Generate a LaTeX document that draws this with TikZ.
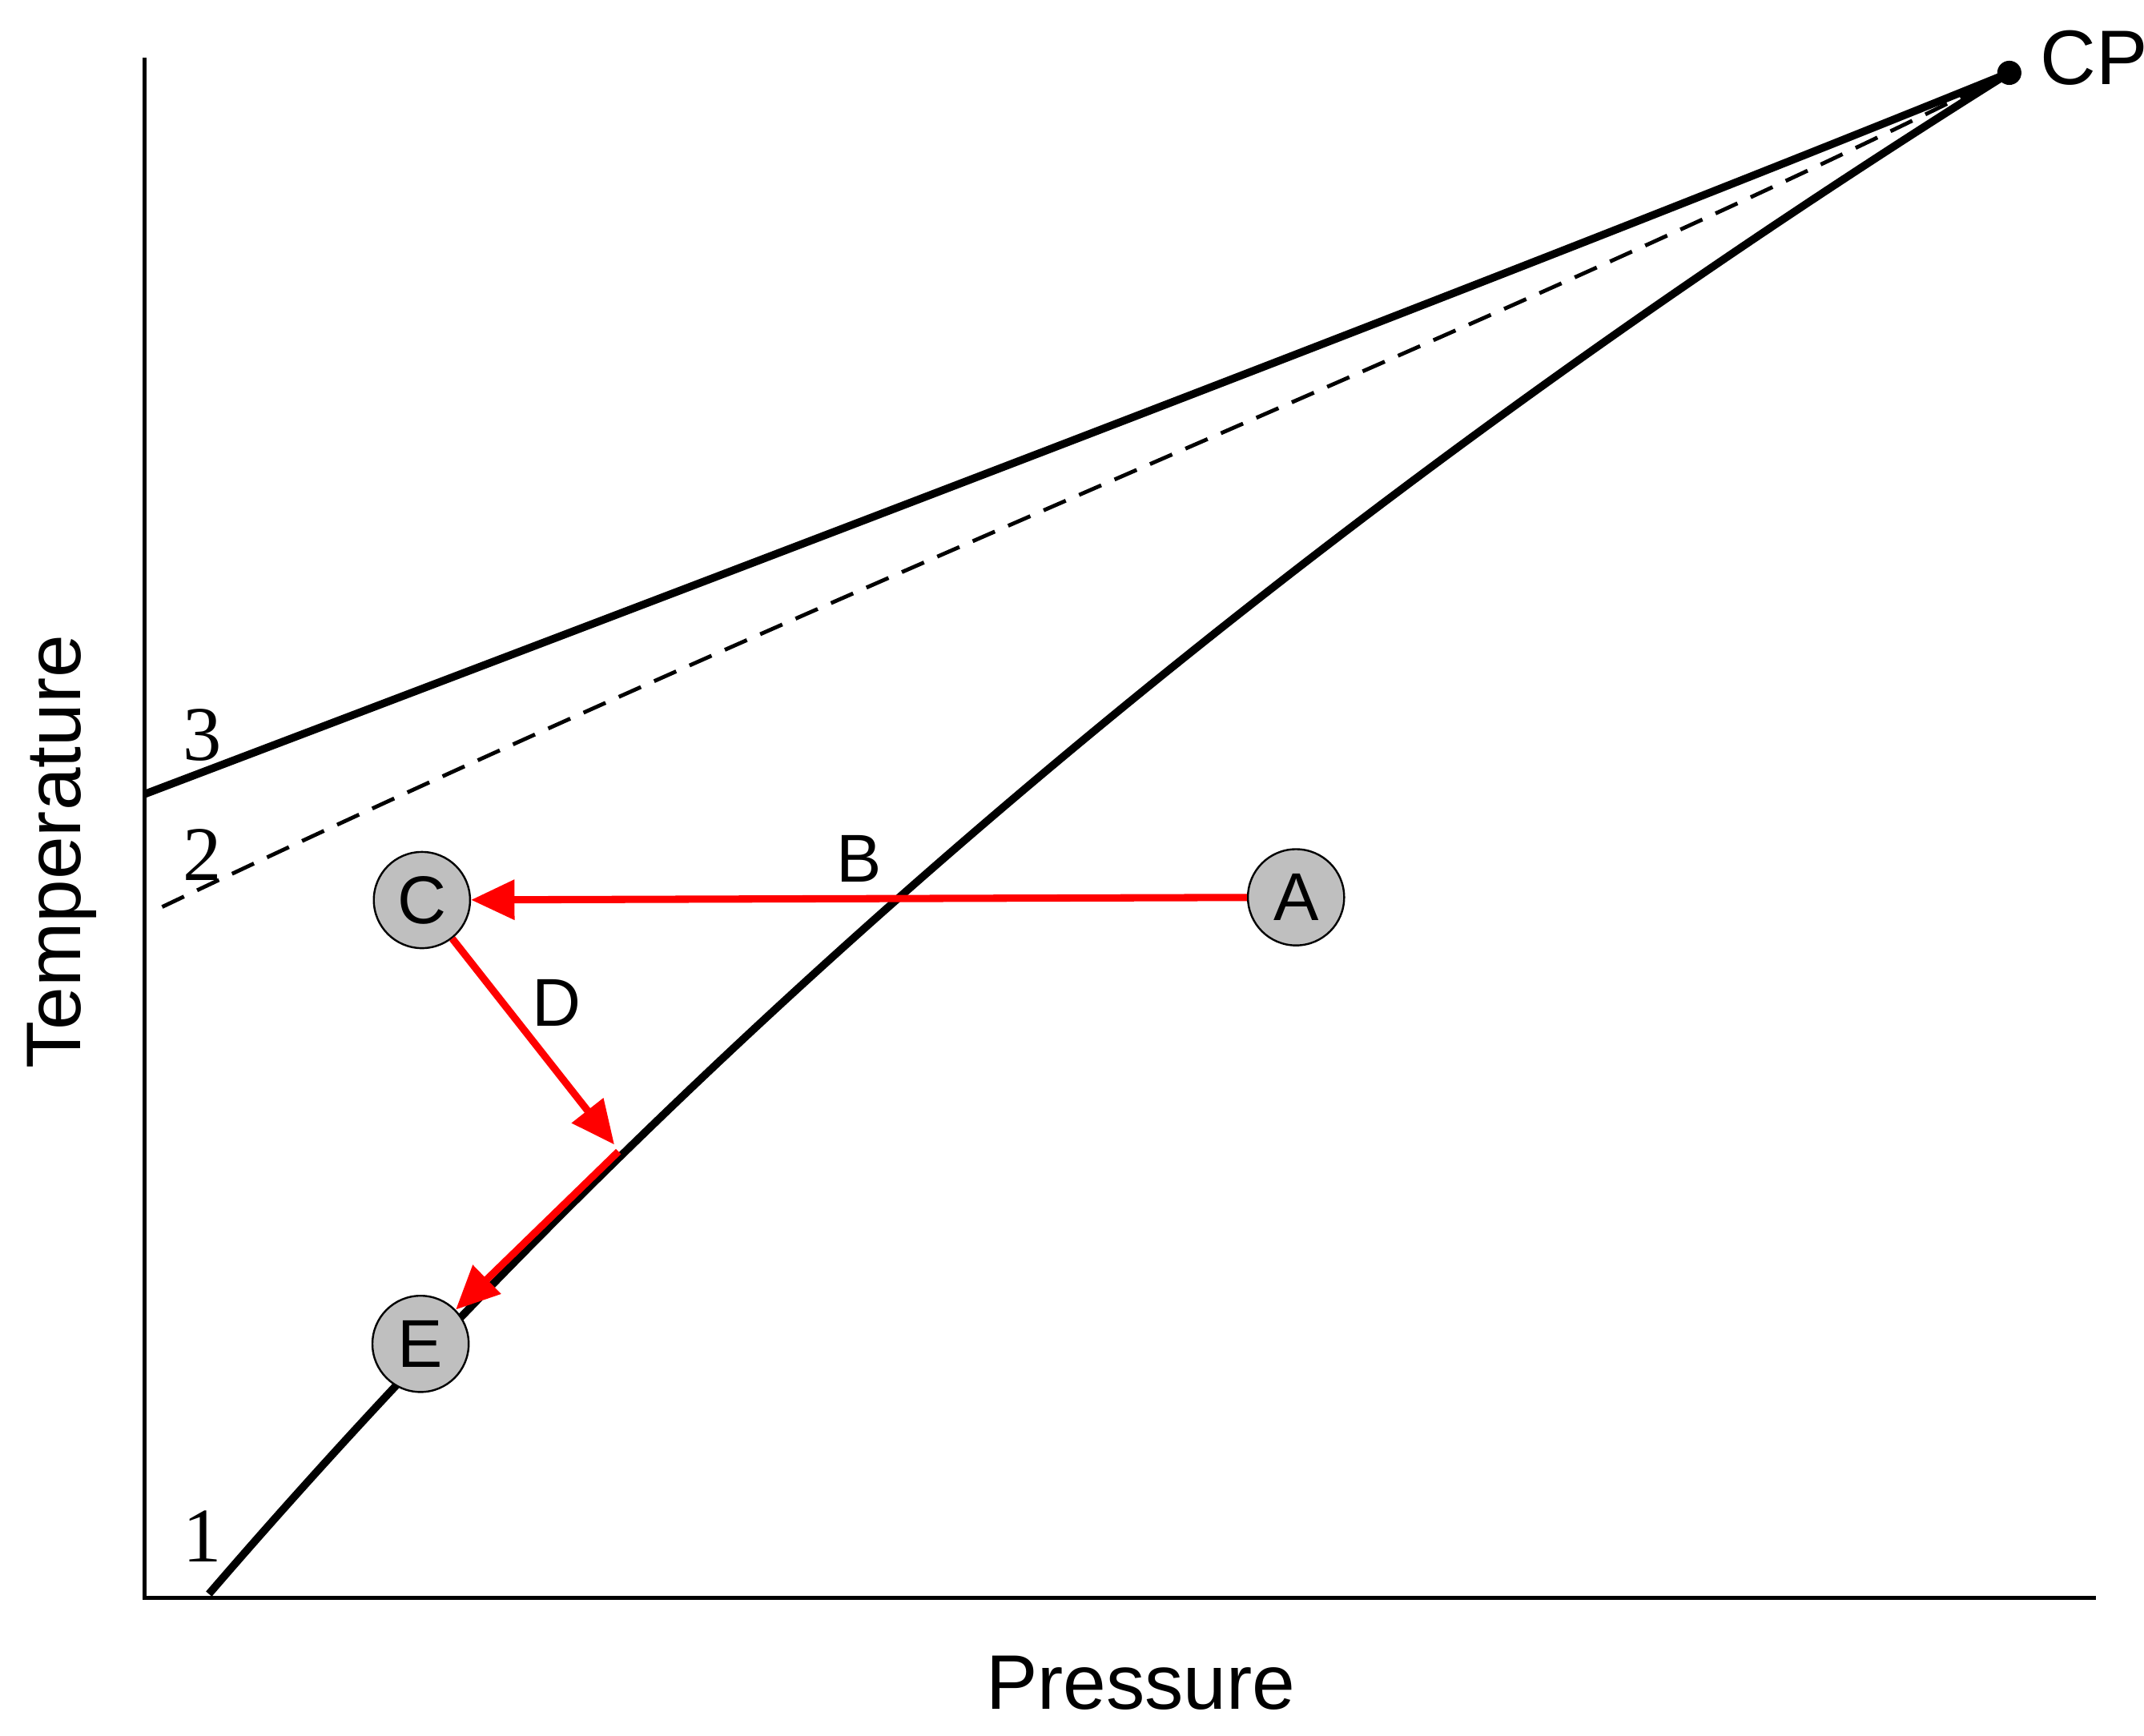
\documentclass[tikz,border=0pt]{standalone}
\usepackage{fontspec}
\setmainfont{Liberation Sans}
\newfontfamily\serif{Liberation Serif}
\usetikzlibrary{arrows.meta}
\begin{document}
\begin{tikzpicture}[x=0.01cm,y=-0.01cm,
  curve/.style={line width=1.6pt},
  pt/.style={circle,draw,fill=gray!50,minimum size=0.7cm,inner sep=0pt,font=\fontsize{14}{16}\selectfont},
  num/.style={font=\serif\fontsize{16}{18}\selectfont},
  lab/.style={font=\fontsize{14}{16}\selectfont},
  red arrow/.style={draw=red,line width=1.5pt,-{Triangle[length=9pt,width=8pt]}}]
\useasboundingbox (0,0) rectangle (1560,1263);
% axes
\draw[line width=0.8pt] (105,42) coordinate (ytop) -- (105,1163) coordinate (o) -- (1525,1163) coordinate (xend);
% critical point
\node[circle,fill=black,inner sep=0pt,minimum size=5pt] (cp) at (1462,53) {};
\node[anchor=west,font=\fontsize{16}{18}\selectfont] (cpl) at (1472,42) {CP};
% curves
\coordinate (c1s) at (152,1160);
\coordinate (c3s) at (105,578);
\coordinate (c2s) at (118,660);
\draw[curve] (c1s) .. controls (600,640) and (1100,280) .. (cp.center);
\draw[curve] (c3s) .. controls (600,390) and (1100,200) .. (cp.center);
\draw[line width=0.8pt,dash pattern=on 5pt off 3pt] (c2s) .. controls (600,430) and (1100,235) .. (cp.center);
% numbers
\node[num] (n3) at (147,535) {3};
\node[num] (n2) at (147,622) {2};
\node[num] (n1) at (147,1118) {1};
% points
\node[pt] (A) at (943,653) {A};
\node[pt] (C) at (307,655) {C};
\node[pt] (E) at (306,978) {E};
\node[lab] (B) at (625,625) {B};
\node[lab] (D) at (405,730) {D};
\coordinate (Dend) at (447,833);
\coordinate (Ds) at (450,838);
% arrows
\draw[red arrow] (A) -- (C);
\draw[red arrow] (C) -- (Dend);
\draw[red arrow] (Ds) -- (E);
% axis labels
\node[font=\fontsize{16}{18}\selectfont] (px) at (830,1225) {Pressure};
\node[font=\fontsize{16}{18}\selectfont,rotate=90] (ty) at (45,620) {Temperature};
\end{tikzpicture}
\end{document}
